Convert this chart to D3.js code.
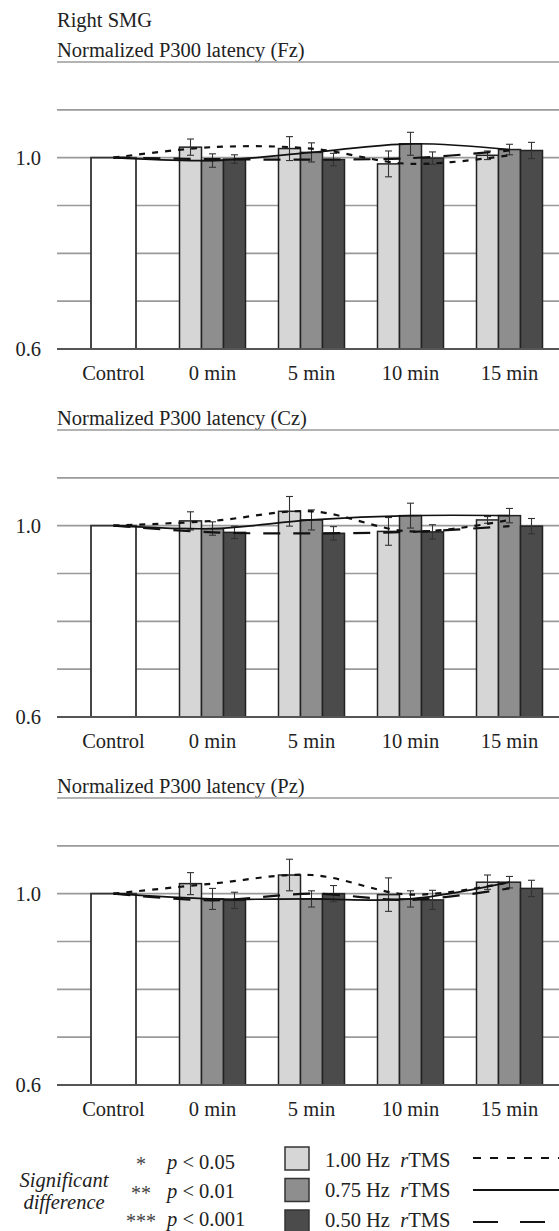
<!DOCTYPE html>
<html>
<head>
<meta charset="utf-8">
<script src="https://cdn.jsdelivr.net/npm/d3@7"></script>
<style>
  body { margin: 0; background: #fff; }
  svg { display: block; }
  text { font-family: "Liberation Serif", "Times New Roman", serif; fill: #222; }
</style>
</head>
<body>
<svg id="chart" width="559" height="1231"></svg>
<script>
// categories and series
const categories = ["Control", "0 min", "5 min", "10 min", "15 min"];
const times = ["0 min", "5 min", "10 min", "15 min"];
const series = ["1.00 Hz", "0.75 Hz", "0.50 Hz"];
const controlValue = 1.0;
const panelTitles = ["Normalized P300 latency (Fz)", "Normalized P300 latency (Cz)", "Normalized P300 latency (Pz)"];
const yTickLabels = [1.0, 0.6];
const gridValues = [0.7, 0.8, 0.9, 1.0, 1.1, 1.2];

// means per series (rows: 1.00, 0.75, 0.50 Hz), cols: 0,5,10,15 min
const fzMean = [[1.022, 1.019, 0.987, 1.005], [0.994, 1.011, 1.029, 1.017], [0.997, 0.996, 0.999, 1.015]];
const fzErr  = [[0.017, 0.025, 0.027, 0.009], [0.014, 0.020, 0.024, 0.011], [0.009, 0.013, 0.013, 0.017]];
const czMean = [[1.010, 1.030, 0.988, 1.012], [0.994, 1.012, 1.021, 1.021], [0.986, 0.984, 0.987, 0.999]];
const czErr  = [[0.019, 0.031, 0.029, 0.007], [0.014, 0.021, 0.026, 0.015], [0.013, 0.014, 0.015, 0.016]];
const pzMean = [[1.021, 1.039, 0.998, 1.024], [0.989, 0.989, 0.989, 1.024], [0.986, 1.000, 0.987, 1.011]];
const pzErr  = [[0.023, 0.033, 0.035, 0.015], [0.022, 0.017, 0.017, 0.012], [0.017, 0.017, 0.020, 0.017]];

const sigLevels = [["*", "0.05"], ["**", "0.01"], ["***", "0.001"]];

const panels = [
  { title: panelTitles[0], mean: fzMean, err: fzErr },
  { title: panelTitles[1], mean: czMean, err: czErr },
  { title: panelTitles[2], mean: pzMean, err: pzErr }
];

const fills = ["#d6d6d6", "#8e8e8e", "#4b4b4b"];
const dashChart = ["6,7", null, "17,13"];
const dashLegend = ["8,9", null, "25,22"];
const fs = "20.5px";

const svg = d3.select("#chart");

const x = d3.scaleBand().domain(categories).range([64, 559]).paddingInner(0);
const xSub = d3.scaleBand().domain(series).range([-33, 33]).paddingInner(0);

// Right SMG header
svg.append("text").attr("x", 57).attr("y", 27).style("font-size", fs).text("Right SMG");

panels.forEach((p, i) => {
  const top = 62 + i * 368;
  const y = d3.scaleLinear().domain([0.6, 1.2]).range([top + 287, top]);
  const g = svg.append("g");

  g.append("text").attr("x", 57).attr("y", top - 5).style("font-size", fs).text(p.title);

  // gridlines
  g.selectAll(".grid").data(gridValues).enter().append("line")
    .attr("x1", 57).attr("x2", 559)
    .attr("y1", d => y(d)).attr("y2", d => y(d))
    .attr("stroke", "#9a9a9a").attr("stroke-width", 1.6);

  // control bar
  g.append("rect")
    .attr("x", x("Control") + x.bandwidth() / 2 - 22.5)
    .attr("y", y(controlValue))
    .attr("width", 45)
    .attr("height", y(0.6) - y(controlValue))
    .attr("fill", "#fff").attr("stroke", "#333").attr("stroke-width", 1.8);

  // bars
  series.forEach((s, si) => {
    g.selectAll(".bar" + si).data(times).enter().append("rect")
      .attr("x", t => x(t) + x.bandwidth() / 2 + xSub(s))
      .attr("y", (t, ti) => y(p.mean[si][ti]))
      .attr("width", xSub.bandwidth())
      .attr("height", (t, ti) => y(0.6) - y(p.mean[si][ti]))
      .attr("fill", fills[si]).attr("stroke", "#222").attr("stroke-width", 1.5);
  });

  // baseline
  g.append("line").attr("x1", 57).attr("x2", 559)
    .attr("y1", y(0.6)).attr("y2", y(0.6))
    .attr("stroke", "#555").attr("stroke-width", 2);

  // error bars
  series.forEach((s, si) => {
    times.forEach((t, ti) => {
      const cx = x(t) + x.bandwidth() / 2 + xSub(s) + xSub.bandwidth() / 2;
      const m = p.mean[si][ti], e = p.err[si][ti];
      const eg = g.append("g").attr("stroke", "#333").attr("stroke-width", 1.1);
      eg.append("line").attr("x1", cx).attr("x2", cx).attr("y1", y(m - e)).attr("y2", y(m + e));
      eg.append("line").attr("x1", cx - 3.5).attr("x2", cx + 3.5).attr("y1", y(m - e)).attr("y2", y(m - e));
      eg.append("line").attr("x1", cx - 3.5).attr("x2", cx + 3.5).attr("y1", y(m + e)).attr("y2", y(m + e));
    });
  });

  // smoothed lines
  const line = d3.line().x(d => x(d[0]) + x.bandwidth() / 2).y(d => y(d[1])).curve(d3.curveCardinal);
  series.forEach((s, si) => {
    const pts = [["Control", controlValue]].concat(times.map((t, ti) => [t, p.mean[si][ti]]));
    g.append("path").attr("d", line(pts))
      .attr("fill", "none").attr("stroke", "#111").attr("stroke-width", si === 1 ? 1.7 : 2.2)
      .attr("stroke-dasharray", dashChart[si]);
  });

  // y labels
  g.selectAll(".ylab").data(yTickLabels).enter().append("text")
    .attr("x", 41).attr("y", d => y(d)).attr("dy", "0.35em")
    .attr("text-anchor", "end").style("font-size", fs)
    .text(d => d.toFixed(1));

  // x labels
  g.selectAll(".xlab").data(categories).enter().append("text")
    .attr("x", d => x(d) + x.bandwidth() / 2).attr("y", y(0.6) + 31)
    .attr("text-anchor", "middle").style("font-size", fs)
    .text(d => d);
});

// legend: significance
const lg = svg.append("g");
lg.append("text").attr("x", 64).attr("y", 1187).attr("text-anchor", "middle")
  .style("font-size", fs).style("font-style", "italic").text("Significant");
lg.append("text").attr("x", 64).attr("y", 1209).attr("text-anchor", "middle")
  .style("font-size", fs).style("font-style", "italic").text("difference");

sigLevels.forEach((d, i) => {
  const by = 1169 + i * 28.5;
  lg.append("text").attr("x", 141).attr("y", by + 2).attr("text-anchor", "middle")
    .style("font-size", "20px").style("fill", "#444").text(d[0]);
  const t = lg.append("text").attr("x", 167).attr("y", by).style("font-size", fs);
  t.append("tspan").style("font-style", "italic").text("p");
  t.append("tspan").text(" < " + d[1]);
});

// legend: series
series.forEach((s, i) => {
  const ty = 1147 + i * 31.5;
  lg.append("rect").attr("x", 285).attr("y", ty).attr("width", 24).attr("height", 23)
    .attr("fill", fills[i]).attr("stroke", "#333").attr("stroke-width", 1.5);
  const t = lg.append("text").attr("x", 325).attr("y", 1167 + i * 30).style("font-size", fs);
  t.append("tspan").text(s + "\u00a0\u00a0");
  t.append("tspan").style("font-style", "italic").text("r");
  t.append("tspan").text("TMS");
  lg.append("line").attr("x1", 473).attr("x2", 559)
    .attr("y1", 1158 + i * 32).attr("y2", 1158 + i * 32)
    .attr("stroke", "#111").attr("stroke-width", 2.2)
    .attr("stroke-dasharray", dashLegend[i]);
});
</script>
</body>
</html>
